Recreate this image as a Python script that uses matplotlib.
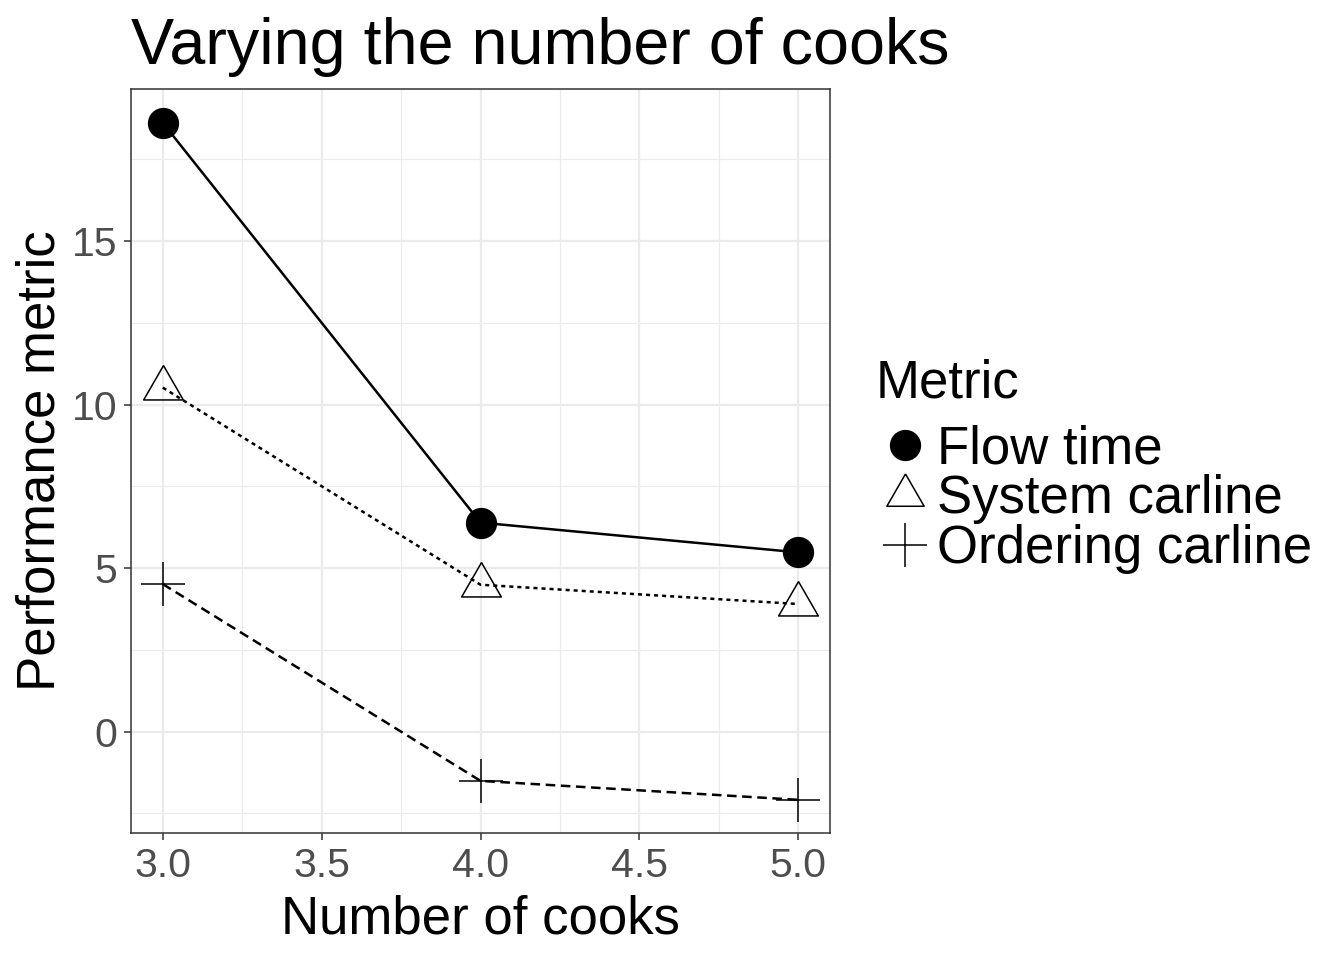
import numpy as np
import matplotlib
matplotlib.use("Agg")
import matplotlib.pyplot as plt
from matplotlib.lines import Line2D
from matplotlib.ticker import MultipleLocator, FormatStrFormatter

plt.rcParams["font.family"] = ["Liberation Sans", "DejaVu Sans"]
plt.rcParams["lines.scale_dashes"] = False

# data
cooks = [3, 4, 5]
flow_time = [18.62, 6.39, 5.48]
system_carline = [10.52, 4.49, 3.90]
ordering_carline = [4.51, -1.51, -2.09]
labels = ["Flow time", "System carline", "Ordering carline"]

# triangle with its centroid on the data point (like ggplot shape 2)
tri = [(0, 2), (-1.732, -1), (1.732, -1), (0, 2)]

fig = plt.figure(figsize=(13.44, 9.6), dpi=100)
ax = fig.add_axes([131 / 1344, 1 - 833 / 960, 699 / 1344, 744 / 960])

ax.plot(cooks, flow_time, color="black", lw=1.8, solid_capstyle="round",
        marker="o", ms=21.5, mfc="black", mec="black", zorder=3)
ax.plot(cooks, system_carline, color="black", lw=1.8, dashes=(2.9, 2.9),
        zorder=3)
ax.plot(cooks, system_carline, ls="none", marker=tri, ms=33, mfc="none",
        mec="black", mew=1.1, zorder=4)
ax.plot(cooks, ordering_carline, color="black", lw=1.8, dashes=(6.9, 4.0),
        zorder=3)
ax.plot(cooks, ordering_carline, ls="none", marker="+", ms=31.7, mec="black",
        mew=1.1, zorder=4)

ax.set_xlim(2.9, 5.1)
ax.set_ylim(-3.105, 19.655)
ax.xaxis.set_major_locator(MultipleLocator(0.5))
ax.xaxis.set_minor_locator(MultipleLocator(0.25))
ax.yaxis.set_major_locator(MultipleLocator(5))
ax.yaxis.set_minor_locator(MultipleLocator(2.5))
ax.xaxis.set_major_formatter(FormatStrFormatter("%.1f"))

ax.grid(which="major", color="#EBEBEB", lw=1.6)
ax.grid(which="minor", color="#EBEBEB", lw=0.8)
ax.set_axisbelow(True)
for s in ax.spines.values():
    s.set_color("#333333")
    s.set_linewidth(1.1)

ax.tick_params(which="major", direction="out", length=5, width=1.1,
               color="#333333", labelsize=29.5, labelcolor="#4D4D4D", pad=5)
ax.tick_params(which="minor", length=0)

ax.set_xlabel("Number of cooks", fontsize=38, labelpad=7)
ax.set_ylabel("Performance metric", fontsize=38, labelpad=4)
ax.set_title("Varying the number of cooks", fontsize=46.5, loc="left", pad=18)

handles = [
    Line2D([], [], ls="none", marker="o", ms=21.5, mfc="black", mec="black"),
    Line2D([], [], ls="none", marker=tri, ms=31, mfc="none", mec="black", mew=1.1),
    Line2D([], [], ls="none", marker="+", ms=31, mec="black", mew=1.1),
]
fig.text(876 / 1344, 1 - 383 / 960, "Metric", fontsize=38, ha="left",
         va="center")
leg = fig.legend(handles, labels, loc="center left",
                 bbox_to_anchor=(879 / 1344, 1 - 499 / 960), frameon=False,
                 fontsize=38, handlelength=1.0, handletextpad=0.1,
                 labelspacing=0.0, borderpad=0, borderaxespad=0)

fig.savefig("out.png", dpi=100)
